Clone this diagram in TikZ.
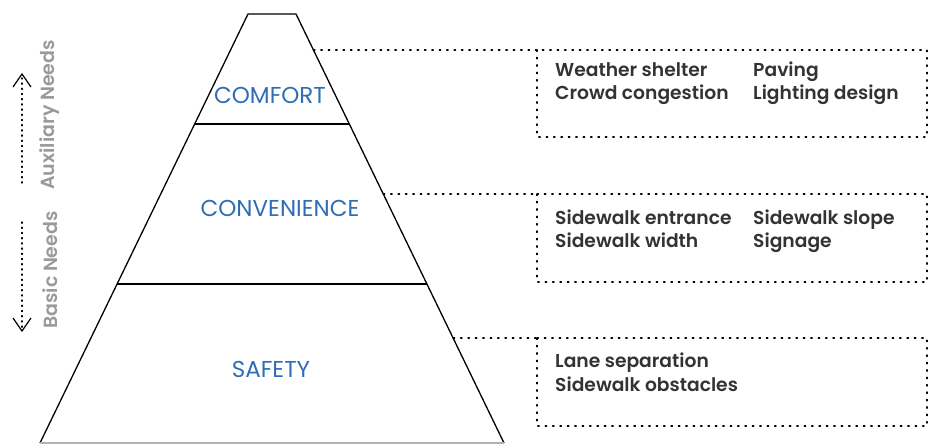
\documentclass[tikz,border=0pt]{standalone}
\usepackage{fontspec}
\setmainfont{Poppins}[BoldFont={Poppins SemiBold}]
\definecolor{lvlblue}{HTML}{2F6DB5}
\definecolor{itemgray}{HTML}{333333}
\definecolor{sidegray}{HTML}{9A9A9A}
\begin{document}
\begin{tikzpicture}[x=1pt,y=-1pt,
  dotline/.style={line width=1.4pt,dash pattern=on 1.4pt off 6pt,line cap=round},
  edge/.style={line width=1.3pt,black},
  lvl/.style={font=\fontsize{23}{27}\selectfont,text=lvlblue,inner sep=0pt},
  item/.style={font=\fontsize{18.7}{22}\bfseries\selectfont,text=itemgray,anchor=base west,inner sep=0pt},
  side/.style={font=\fontsize{19}{22}\bfseries\selectfont,text=sidegray,rotate=90,inner sep=0pt},
  chev/.style={line width=1.2pt,black}]
\useasboundingbox (0,0) rectangle (935,445);
% pyramid
\coordinate (tl) at (248,14);
\coordinate (tr) at (296,14);
\coordinate (bl) at (40,443);
\coordinate (br) at (504,443);
\coordinate (l1) at (194.7,124);
\coordinate (r1) at (349.3,124);
\coordinate (l2) at (117.1,284);
\coordinate (r2) at (426.9,284);
\draw[edge] (bl) -- (tl) -- (tr) -- (br);
\draw[line width=1.2pt,gray!60] (bl) -- (br);
\draw[edge] (l1) -- (r1);
\draw[edge] (l2) -- (r2);
% level labels
\node[lvl] (comfort) at (270,95) {COMFORT};
\node[lvl] (conv) at (280,208) {CONVENIENCE};
\node[lvl] (safety) at (271,369) {SAFETY};
% dotted leaders and boxes
\coordinate (p1) at (313.5,50);
\coordinate (p2) at (383.3,194);
\coordinate (p3) at (453.2,338);
\coordinate (b1a) at (537,50);  \coordinate (b1b) at (927,137);
\coordinate (b2a) at (537,194); \coordinate (b2b) at (927,282);
\coordinate (b3a) at (537,338); \coordinate (b3b) at (927,426);
\draw[dotline] (p1) -- (b1a);
\draw[dotline] (p2) -- (b2a);
\draw[dotline] (p3) -- (b3a);
\draw[dotline] (b1a) rectangle (b1b);
\draw[dotline] (b2a) rectangle (b2b);
\draw[dotline] (b3a) rectangle (b3b);
% items
\node[item] (i11) at (555,76) {Weather shelter};
\node[item] (i12) at (753,76) {Paving};
\node[item] (i13) at (555,99) {Crowd congestion};
\node[item] (i14) at (753,99) {Lighting design};
\node[item] (i21) at (555,224) {Sidewalk entrance};
\node[item] (i22) at (753,224) {Sidewalk slope};
\node[item] (i23) at (555,247) {Sidewalk width};
\node[item] (i24) at (753,247) {Signage};
\node[item] (i31) at (555,367) {Lane separation};
\node[item] (i32) at (555,391) {Sidewalk obstacles};
% side labels
\node[side] (aux) at (50,115) {Auxiliary Needs};
\node[side] (basic) at (50,270) {Basic Needs};
\coordinate (a1s) at (22,183);
\coordinate (a1e) at (22,78);
\coordinate (a2s) at (22,222);
\coordinate (a2e) at (22,328);
\draw[dotline,line width=1.2pt,dash pattern=on 1.2pt off 4pt] (a1s) -- (a1e);
\draw[dotline,line width=1.2pt,dash pattern=on 1.2pt off 4pt] (a2s) -- (a2e);
\draw[chev] (13,87) -- (22,74) -- (31,87);
\draw[chev] (13,318) -- (22,331) -- (31,318);
\end{tikzpicture}
\end{document}
